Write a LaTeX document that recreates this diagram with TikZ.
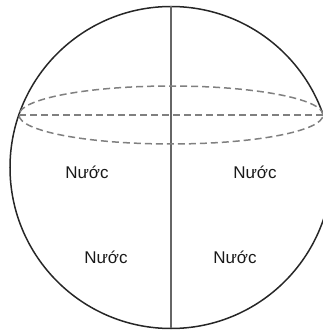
\documentclass[tikz,border=0pt]{standalone}
\usepackage{fontspec}
\setmainfont{Liberation Sans}
\begin{document}
\begin{tikzpicture}[x=1pt,y=1pt,
  outline/.style={draw=black!85,line width=1.5pt},
  axisline/.style={draw=black!60,line width=1.1pt},
  eqline/.style={draw=black!50,line width=1.5pt,dash pattern=on 7pt off 4pt},
  label/.style={font=\fontsize{17}{20}\selectfont,text=black!90,inner sep=0pt}]
\useasboundingbox (0,0) rectangle (323,330);
\clip (0,0) rectangle (323,330);
\coordinate (c) at (171,162.5);
\coordinate (top) at (171,323.5);
\coordinate (bot) at (171,1.5);
\coordinate (eqL) at (19,215);
\coordinate (eqR) at (323,215);
\coordinate (eqC) at (171,215);
\draw[outline] (c) circle[radius=161];
\draw[axisline] (top) -- (bot);
\draw[eqline] (eqC) ellipse[x radius=152,y radius=29];
\draw[eqline] (eqL) -- (eqR);
\node[label] (n1) at (87,158) {Nước};
\node[label] (n2) at (255,158) {Nước};
\node[label] (n3) at (106,73) {Nước};
\node[label] (n4) at (235,73) {Nước};
\end{tikzpicture}
\end{document}
